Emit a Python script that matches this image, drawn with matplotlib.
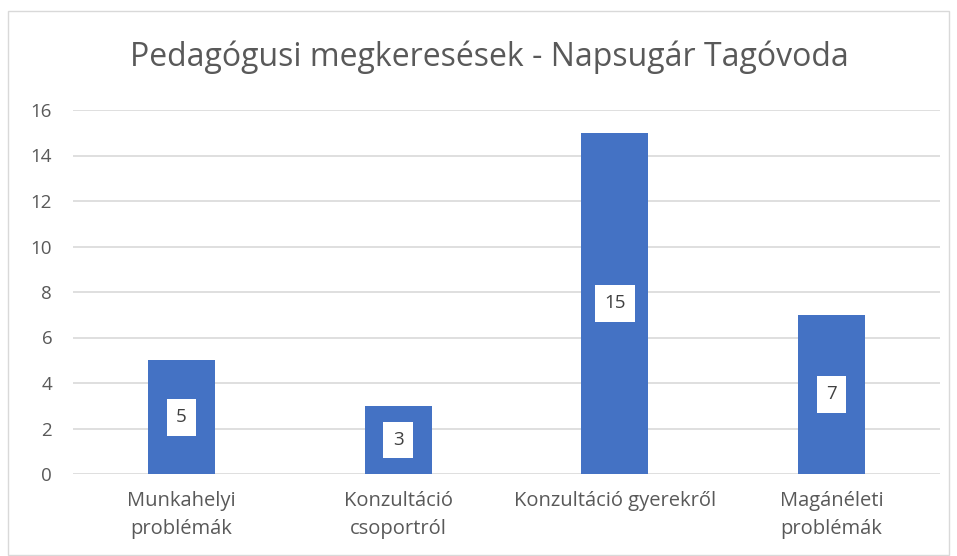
import matplotlib.pyplot as plt
from matplotlib.patches import Rectangle

categories = ["Munkahelyi\nproblémák", "Konzultáció\ncsoportról", "Konzultáció gyerekről", "Magánéleti\nproblémák"]
values = [5, 3, 15, 7]
y_ticks = [0, 2, 4, 6, 8, 10, 12, 14, 16]
title = "Pedagógusi megkeresések - Napsugár Tagóvoda"

bar_color = "#4472C4"
text_color = "#595959"
grid_color = "#d9d9d9"

plt.rcParams["font.family"] = ["Open Sans", "DejaVu Sans"]

fig = plt.figure(figsize=(9.57, 5.56), dpi=100)
ax = fig.add_axes([73 / 957, 1 - 474 / 556, (940 - 73) / 957, (474 - 110) / 556])

x = list(range(len(categories)))
bars = ax.bar(x, values, width=0.31, color=bar_color, zorder=3)

for xi, v in zip(x, values):
    ax.text(xi, v / 2, str(v), ha="center", va="center", fontsize=13.5, color="#404040",
            zorder=4, bbox=dict(boxstyle="square,pad=0.5", fc="white", ec="none"))

ax.set_xlim(-0.5, len(categories) - 0.5)
ax.set_ylim(0, 16)
ax.set_yticks(y_ticks)
ax.set_xticks(x)
ax.set_xticklabels(categories, fontsize=14.5, color=text_color, linespacing=1.55)
ax.tick_params(axis="y", labelsize=13.5, labelcolor=text_color, length=0, pad=15)
ax.tick_params(axis="x", length=0, pad=12)
ax.yaxis.grid(True, color=grid_color, linewidth=1.2, zorder=0)
ax.set_axisbelow(True)
for s in ax.spines.values():
    s.set_visible(False)

fig.text(489 / 957, 1 - 57 / 556, title, ha="center", va="center", fontsize=23, color=text_color)

fig.patches.append(Rectangle((8 / 957, 0.002), 1 - 16 / 957, 1 - 12 / 556, transform=fig.transFigure,
                             fill=False, ec="#d9d9d9", lw=1))

plt.savefig("out.png", dpi=100)
